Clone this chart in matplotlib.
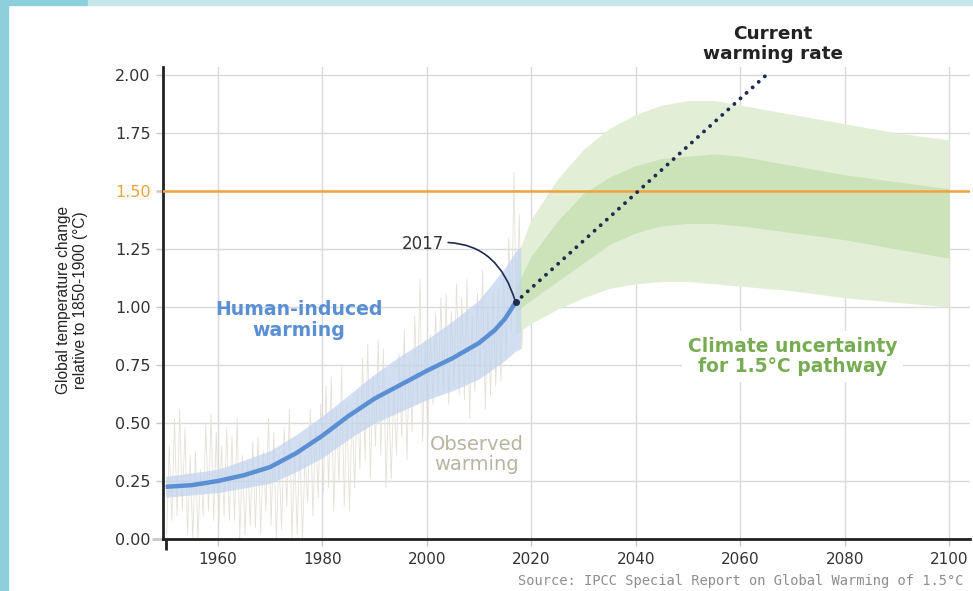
import numpy as np
import matplotlib as mpl
mpl.use('Agg')
from matplotlib import pyplot as plt
from matplotlib.patches import Rectangle

# ---------------
# Data
# ---------------
obs_years = list(range(1950, 2020))
obs_low = [0.02, 0.08, 0.10, 0.12, 0.02, 0.00, 0.00, 0.10, 0.12, 0.08,
           0.06, 0.10, 0.08, 0.08, 0.00, 0.02, 0.06, 0.05, 0.02, 0.12,
           0.06, 0.00, 0.04, 0.14, 0.00, 0.02, 0.00, 0.16, 0.10, 0.18,
           0.20, 0.22, 0.12, 0.24, 0.14, 0.12, 0.22, 0.30, 0.34, 0.26,
           0.40, 0.36, 0.22, 0.26, 0.36, 0.44, 0.34, 0.46, 0.58, 0.42,
           0.44, 0.58, 0.62, 0.64, 0.58, 0.66, 0.62, 0.60, 0.52, 0.64,
           0.70, 0.56, 0.62, 0.66, 0.68, 0.78, 0.90, 0.88, 0.82, 0.92]
obs_high = [0.40, 0.52, 0.56, 0.48, 0.36, 0.38, 0.30, 0.50, 0.54, 0.46,
            0.40, 0.48, 0.44, 0.52, 0.36, 0.34, 0.42, 0.44, 0.38, 0.52,
            0.46, 0.36, 0.48, 0.56, 0.38, 0.42, 0.36, 0.56, 0.50, 0.58,
            0.66, 0.70, 0.56, 0.74, 0.58, 0.56, 0.64, 0.78, 0.84, 0.70,
            0.86, 0.82, 0.64, 0.66, 0.80, 0.90, 0.78, 0.96, 1.12, 0.86,
            0.88, 0.98, 1.04, 1.06, 0.98, 1.10, 1.04, 1.12, 0.96, 1.06,
            1.16, 1.00, 1.06, 1.08, 1.12, 1.30, 1.58, 1.40, 1.22, 1.26]

human_years = [1950, 1955, 1960, 1965, 1970, 1975, 1980, 1985, 1990, 1995,
               2000, 2005, 2010, 2013, 2015, 2017]
human_mid = [0.225, 0.232, 0.25, 0.275, 0.31, 0.37, 0.445, 0.53, 0.605, 0.665,
             0.725, 0.78, 0.845, 0.90, 0.95, 1.02]

band_years = [1950, 1960, 1970, 1975, 1980, 1985, 1990, 1995, 2000, 2005,
              2010, 2015, 2017, 2018]
band_low = [0.18, 0.20, 0.24, 0.29, 0.35, 0.43, 0.50, 0.55, 0.60, 0.64,
            0.69, 0.77, 0.81, 0.82]
band_high = [0.27, 0.30, 0.38, 0.45, 0.53, 0.62, 0.71, 0.79, 0.86, 0.94,
             1.03, 1.17, 1.24, 1.26]

proj_years = [2017, 2020, 2025, 2030, 2035, 2040, 2045, 2050, 2055, 2060,
              2070, 2080, 2090, 2100]
outer_low = [0.88, 0.93, 0.99, 1.04, 1.08, 1.10, 1.11, 1.11, 1.10, 1.09,
             1.07, 1.04, 1.02, 1.00]
outer_high = [1.20, 1.38, 1.55, 1.68, 1.77, 1.83, 1.87, 1.89, 1.89, 1.87,
              1.83, 1.79, 1.75, 1.72]
inner_low = [0.98, 1.03, 1.11, 1.19, 1.27, 1.32, 1.35, 1.36, 1.36, 1.35,
             1.32, 1.29, 1.25, 1.21]
inner_high = [1.08, 1.22, 1.37, 1.49, 1.56, 1.61, 1.64, 1.65, 1.66, 1.65,
              1.61, 1.57, 1.54, 1.51]

rate_years = [2017, 2065]
rate_values = [1.02, 2.00]

target = 1.5
x_ticks = [1960, 1980, 2000, 2020, 2040, 2060, 2080, 2100]
y_ticks = [0.0, 0.25, 0.5, 0.75, 1.0, 1.25, 1.5, 1.75, 2.0]

# ---------------
# Style
# ---------------
plt.rcParams['font.family'] = ['DejaVu Sans']
plt.rcParams['font.size'] = 11

BLUE = '#5b8fd3'
GREEN_TXT = '#78ac52'
ORANGE = '#f0a33c'
NAVY = '#1d2b4f'
GRID = '#dadada'

fig = plt.figure(figsize=(9.73, 5.91), dpi=100)

# teal frame pieces of the slide
fig.patches.append(Rectangle((0, 0), 8 / 973, 1, transform=fig.transFigure,
                             color='#8dcfdb', zorder=0))
fig.patches.append(Rectangle((0, 1 - 5 / 591), 88 / 973, 5 / 591,
                             transform=fig.transFigure, color='#8dcfdb', zorder=0))
fig.patches.append(Rectangle((88 / 973, 1 - 5 / 591), 1, 5 / 591,
                             transform=fig.transFigure, color='#c4e5ea', zorder=0))

ax = fig.add_axes([163 / 973, 52 / 591, 807 / 973, 472 / 591])
ax.set_xlim(1949.5, 2104)
ax.set_ylim(0, 2.0345)

# observed warming: monthly wiggle shown as a zigzag between low and high
zx, zy = [], []
for yr, lo, hi in zip(obs_years, obs_low, obs_high):
    zx += [yr + 0.2, yr + 0.7]
    zy += [lo, hi]
ax.plot(zx, zy, color='#e4e1d8', lw=0.6, zorder=2)

# human induced warming
ax.fill_between(band_years, band_low, band_high, color='#c3d4ee', alpha=0.75,
                lw=0, zorder=3)
ax.plot(human_years, human_mid, color=BLUE, lw=3.2, solid_capstyle='butt', zorder=5)

# projection bands
ax.fill_between(proj_years, outer_low, outer_high, color='#e2efd6', lw=0, zorder=2.5)
ax.fill_between(proj_years, inner_low, inner_high, color='#cce3b9', lw=0, zorder=2.6)

ax.axhline(target, color=ORANGE, lw=1.8, zorder=4)

ax.plot(rate_years, rate_values, color=NAVY, lw=2.8, linestyle=(0, (0.01, 2.1)),
        dash_capstyle='round', zorder=6, clip_on=False)
ax.plot([rate_years[0]], [rate_values[0]], 'o', color=NAVY, ms=4, zorder=7)

# 2017 label with a curved leader
ax.annotate('2017', xy=(rate_years[0], rate_values[0]), xytext=(2003.3, 1.27),
            ha='right', va='center', color='#333333', fontsize=12,
            arrowprops=dict(arrowstyle='-', color=NAVY, lw=1.2,
                            shrinkA=1, shrinkB=0,
                            connectionstyle='arc3,rad=-0.45'), zorder=7)

# texts
ax.text(1975.5, 0.945, 'Human-induced\nwarming', color=BLUE, fontsize=13.6,
        fontweight='bold', ha='center', va='center', linespacing=1.1, zorder=8)
ax.text(2009.5, 0.364, 'Observed\nwarming', color='#b8b49f', fontsize=14,
        ha='center', va='center', linespacing=1.12, zorder=8)
ax.text(2070, 0.787, 'Climate uncertainty\nfor 1.5\u00b0C pathway', color=GREEN_TXT,
        fontsize=13.5, fontweight='bold', ha='center', va='center', linespacing=1.12,
        bbox=dict(boxstyle='square,pad=0.3', fc='white', ec='none'), zorder=8)
fig.text(773 / 973, 1 - 44 / 591, 'Current\nwarming rate', color='#222222',
         fontsize=13.3, fontweight='bold', ha='center', va='center', linespacing=1.08)

fig.text(518 / 973, 1 - 581 / 591,
         'Source: IPCC Special Report on Global Warming of 1.5\u00b0C',
         family='DejaVu Sans Mono', fontsize=9.9, color='#8e8e8e',
         ha='left', va='center')

fig.text(72 / 973, 1 - 300 / 591,
         'Global temperature change\nrelative to 1850-1900 (\u00b0C)',
         family=['Liberation Sans Narrow', 'Liberation Sans'], fontsize=11.2,
         color='#222222', rotation=90, ha='center', va='center', linespacing=1.2)

# axes styling
ax.set_xticks(x_ticks)
ax.set_yticks(y_ticks)
ax.set_yticklabels([f'{v:.2f}' for v in y_ticks])
ax.set_xticks([1950], minor=True)
ax.tick_params(axis='both', which='major', color='#c8c8c8', length=5, width=1,
               labelcolor='#333333', labelsize=11, pad=4)
ax.tick_params(axis='y', which='major', labelsize=11.5)
ax.tick_params(axis='x', which='minor', color='#222222', length=8, width=2)
ax.grid(True, color=GRID, lw=1, zorder=0)
ax.set_axisbelow(True)

for lbl, v in zip(ax.get_yticklabels(), y_ticks):
    if v == target:
        lbl.set_color(ORANGE)
ytl = ax.yaxis.get_major_ticks()
for tk, v in zip(ytl, y_ticks):
    if v == target:
        tk.tick1line.set_color(ORANGE)
        tk.tick1line.set_markeredgewidth(1.8)
    if v == 0:
        tk.tick1line.set_color('#222222')
        tk.tick1line.set_markersize(8)
        tk.tick1line.set_markeredgewidth(2)

for side in ['top', 'right']:
    ax.spines[side].set_visible(False)
for side in ['left', 'bottom']:
    ax.spines[side].set_color('#222222')
    ax.spines[side].set_linewidth(2)

fig.savefig('out.png', dpi=100)
